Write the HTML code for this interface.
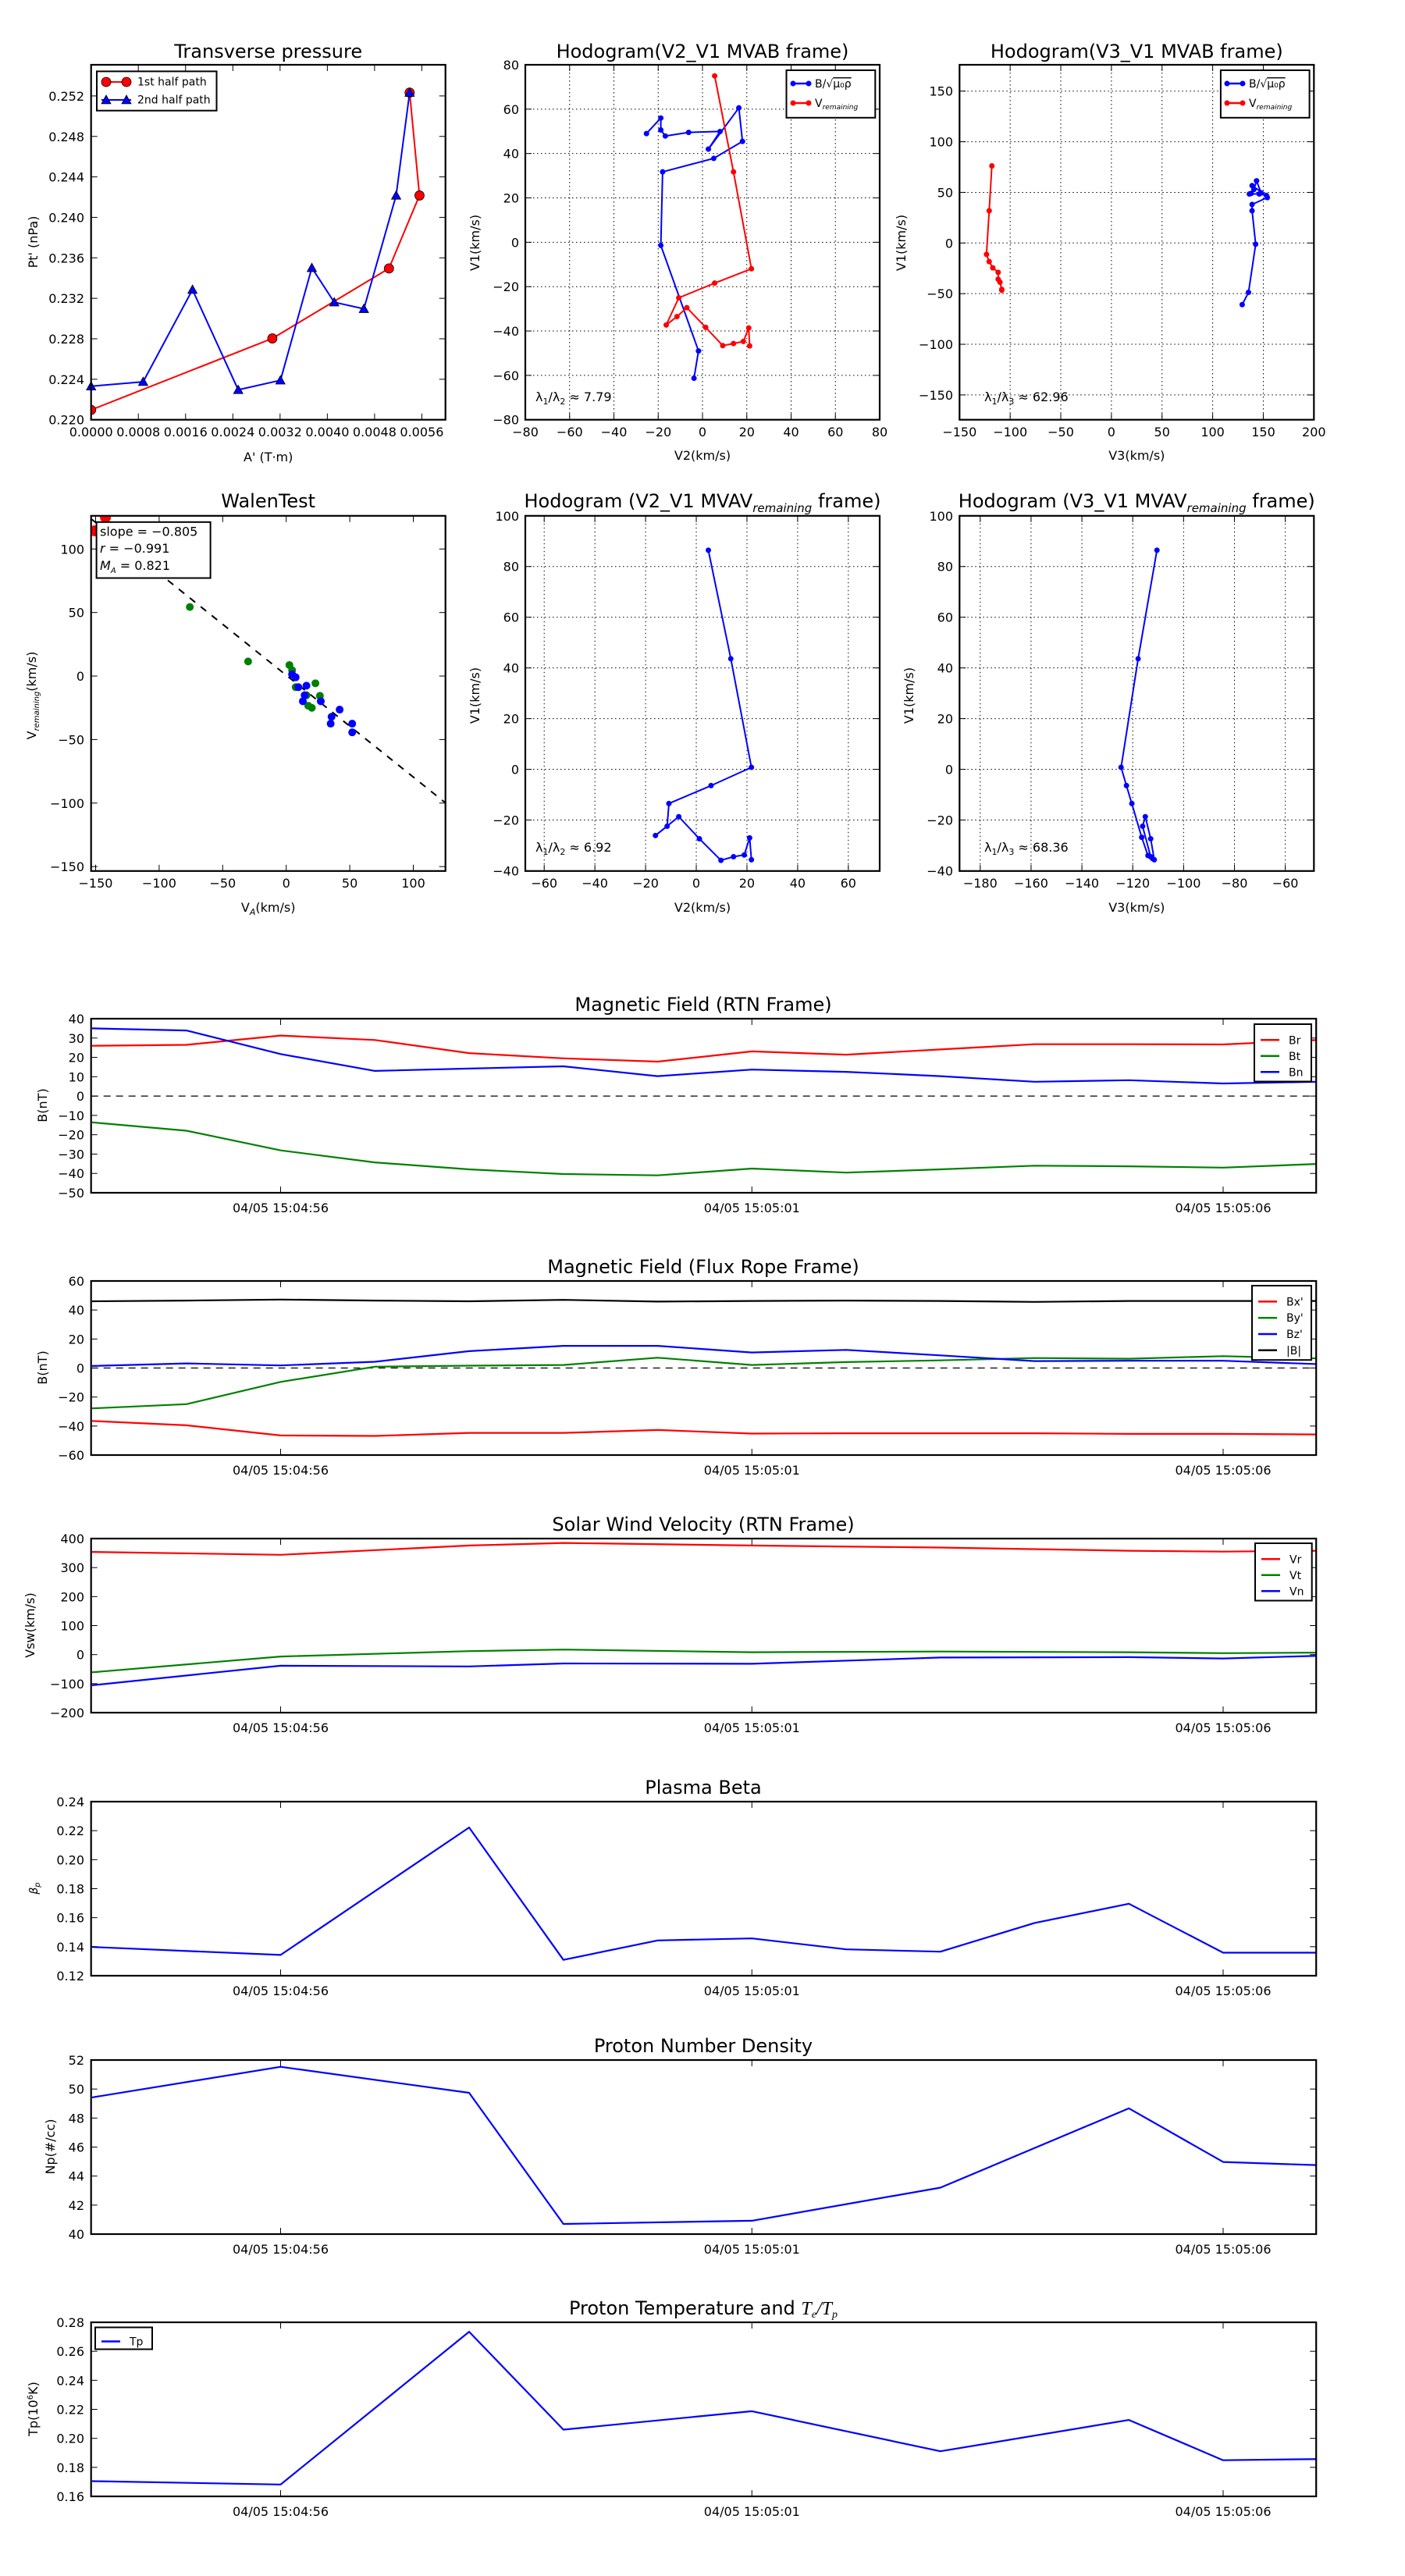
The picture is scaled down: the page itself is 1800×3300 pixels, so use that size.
<!DOCTYPE html>
<html><head><meta charset="utf-8"><style>
html,body{margin:0;padding:0;background:#fff;width:1800px;height:3300px;overflow:hidden}
svg{display:block}
text{font-family:"DejaVu Sans","Liberation Sans",sans-serif;fill:#000}
.t{font-size:24px;text-anchor:middle}
.k{font-size:16px}
.e{text-anchor:end}
.m{text-anchor:middle}
.l{font-size:14px}
</style></head><body>
<svg id="s" width="1800" height="3300" viewBox="0 0 1800 3300" xmlns="http://www.w3.org/2000/svg">
<rect width="1800" height="3300" fill="#fff"/>
<defs>
<clipPath id="c1"><rect x="116.7" y="83" width="454" height="454.7"/></clipPath>
<clipPath id="c2"><rect x="673" y="83" width="454" height="454.7"/></clipPath>
<clipPath id="c3"><rect x="1229.3" y="83" width="454" height="454.7"/></clipPath>
<clipPath id="c4"><rect x="116.7" y="660.8" width="454" height="455"/></clipPath>
<clipPath id="c5"><rect x="673" y="660.8" width="454" height="455"/></clipPath>
<clipPath id="c6"><rect x="1229.3" y="660.8" width="454" height="455"/></clipPath>
<clipPath id="ct"><rect x="116.7" y="0" width="1569.5" height="3300"/></clipPath>
</defs>
<g id="g"></g>

<text class="t" x="343.7" y="74">Transverse pressure</text>
<text class="t" x="900" y="74">Hodogram(V2_V1 MVAB frame)</text>
<text class="t" x="1456.3" y="74">Hodogram(V3_V1 MVAB frame)</text>

<g class="k">
<text class="e" x="108" y="543.7">0.220</text>
<text class="e" x="108" y="491.9">0.224</text>
<text class="e" x="108" y="440">0.228</text>
<text class="e" x="108" y="388.2">0.232</text>
<text class="e" x="108" y="336.3">0.236</text>
<text class="e" x="108" y="284.5">0.240</text>
<text class="e" x="108" y="232.6">0.244</text>
<text class="e" x="108" y="180.8">0.248</text>
<text class="e" x="108" y="128.9">0.252</text>
<text class="m" x="116.7" y="559">0.0000</text>
<text class="m" x="177.2" y="559">0.0008</text>
<text class="m" x="237.8" y="559">0.0016</text>
<text class="m" x="298.3" y="559">0.0024</text>
<text class="m" x="358.8" y="559">0.0032</text>
<text class="m" x="419.4" y="559">0.0040</text>
<text class="m" x="479.9" y="559">0.0048</text>
<text class="m" x="540.4" y="559">0.0056</text>
<text class="m" x="343.7" y="591">A' (T·m)</text>
<text class="m" transform="translate(48,310) rotate(-90)">Pt' (nPa)</text>
</g>

<g class="k">
<text class="e" x="665" y="89">80</text>
<text class="e" x="665" y="145.8">60</text>
<text class="e" x="665" y="202.7">40</text>
<text class="e" x="665" y="259.5">20</text>
<text class="e" x="665" y="316.4">0</text>
<text class="e" x="665" y="373.2">−20</text>
<text class="e" x="665" y="430">−40</text>
<text class="e" x="665" y="486.9">−60</text>
<text class="e" x="665" y="543.7">−80</text>
<text class="m" x="673" y="559">−80</text>
<text class="m" x="729.8" y="559">−60</text>
<text class="m" x="786.5" y="559">−40</text>
<text class="m" x="843.3" y="559">−20</text>
<text class="m" x="900" y="559">0</text>
<text class="m" x="956.8" y="559">20</text>
<text class="m" x="1013.5" y="559">40</text>
<text class="m" x="1070.3" y="559">60</text>
<text class="m" x="1127" y="559">80</text>
<text class="m" x="900" y="589">V2(km/s)</text>
<text class="m" transform="translate(614,311) rotate(-90)">V1(km/s)</text>
<text x="686" y="514">λ<tspan font-size="11" dy="4">1</tspan><tspan dy="-4">/λ</tspan><tspan font-size="11" dy="4">2</tspan><tspan dy="-4"> ≈ 7.79</tspan></text>
</g>

<g class="k">
<text class="e" x="1221" y="122.7">150</text>
<text class="e" x="1221" y="187.6">100</text>
<text class="e" x="1221" y="252.4">50</text>
<text class="e" x="1221" y="317.3">0</text>
<text class="e" x="1221" y="382.2">−50</text>
<text class="e" x="1221" y="447.1">−100</text>
<text class="e" x="1221" y="511.9">−150</text>
<text class="m" x="1229.3" y="559">−150</text>
<text class="m" x="1294.2" y="559">−100</text>
<text class="m" x="1359" y="559">−50</text>
<text class="m" x="1423.9" y="559">0</text>
<text class="m" x="1488.7" y="559">50</text>
<text class="m" x="1553.6" y="559">100</text>
<text class="m" x="1618.5" y="559">150</text>
<text class="m" x="1683.3" y="559">200</text>
<text class="m" x="1456.3" y="589">V3(km/s)</text>
<text class="m" transform="translate(1160,311) rotate(-90)">V1(km/s)</text>
<text x="1261" y="514">λ<tspan font-size="11" dy="4">1</tspan><tspan dy="-4">/λ</tspan><tspan font-size="11" dy="4">3</tspan><tspan dy="-4"> ≈ 62.96</tspan></text>
</g>

<text class="t" x="343.7" y="650">WalenTest</text>
<text class="t" x="900" y="650">Hodogram (V2_V1 MVAV<tspan font-size="15" font-style="italic" dy="6">remaining</tspan><tspan dy="-6"> frame)</tspan></text>
<text class="t" x="1456.3" y="650">Hodogram (V3_V1 MVAV<tspan font-size="15" font-style="italic" dy="6">remaining</tspan><tspan dy="-6"> frame)</tspan></text>

<g class="k">
<text class="e" x="108" y="709.3">100</text>
<text class="e" x="108" y="790.7">50</text>
<text class="e" x="108" y="872">0</text>
<text class="e" x="108" y="953.4">−50</text>
<text class="e" x="108" y="1034.8">−100</text>
<text class="e" x="108" y="1116.2">−150</text>
<text class="m" x="122.5" y="1137">−150</text>
<text class="m" x="203.9" y="1137">−100</text>
<text class="m" x="285.3" y="1137">−50</text>
<text class="m" x="366.7" y="1137">0</text>
<text class="m" x="448.1" y="1137">50</text>
<text class="m" x="529.5" y="1137">100</text>
<text class="m" x="343.7" y="1168">V<tspan font-size="11" font-style="italic" dy="4">A</tspan><tspan dy="-4">(km/s)</tspan></text>
<text class="m" transform="translate(46,891) rotate(-90)">V<tspan font-size="10" font-style="italic" dy="4">remaining</tspan><tspan dy="-4">(km/s)</tspan></text>
<text class="e" x="665" y="666.8">100</text>
<text class="e" x="665" y="731.7">80</text>
<text class="e" x="665" y="796.7">60</text>
<text class="e" x="665" y="861.6">40</text>
<text class="e" x="665" y="926.6">20</text>
<text class="e" x="665" y="991.5">0</text>
<text class="e" x="665" y="1056.5">−20</text>
<text class="e" x="665" y="1121.4">−40</text>
<text class="m" x="697.2" y="1137">−60</text>
<text class="m" x="762.1" y="1137">−40</text>
<text class="m" x="827.1" y="1137">−20</text>
<text class="m" x="892" y="1137">0</text>
<text class="m" x="956.9" y="1137">20</text>
<text class="m" x="1021.9" y="1137">40</text>
<text class="m" x="1086.8" y="1137">60</text>
<text class="m" x="900" y="1168">V2(km/s)</text>
<text class="m" transform="translate(614,891) rotate(-90)">V1(km/s)</text>
<text x="686" y="1091">λ<tspan font-size="11" dy="4">1</tspan><tspan dy="-4">/λ</tspan><tspan font-size="11" dy="4">2</tspan><tspan dy="-4"> ≈ 6.92</tspan></text>
<text class="e" x="1221" y="666.8">100</text>
<text class="e" x="1221" y="731.7">80</text>
<text class="e" x="1221" y="796.7">60</text>
<text class="e" x="1221" y="861.6">40</text>
<text class="e" x="1221" y="926.6">20</text>
<text class="e" x="1221" y="991.5">0</text>
<text class="e" x="1221" y="1056.5">−20</text>
<text class="e" x="1221" y="1121.4">−40</text>
<text class="m" x="1255.8" y="1137">−180</text>
<text class="m" x="1320.9" y="1137">−160</text>
<text class="m" x="1386.1" y="1137">−140</text>
<text class="m" x="1451.2" y="1137">−120</text>
<text class="m" x="1516.4" y="1137">−100</text>
<text class="m" x="1581.5" y="1137">−80</text>
<text class="m" x="1646.6" y="1137">−60</text>
<text class="m" x="1456.3" y="1168">V3(km/s)</text>
<text class="m" transform="translate(1170,891) rotate(-90)">V1(km/s)</text>
<text x="1261" y="1091">λ<tspan font-size="11" dy="4">1</tspan><tspan dy="-4">/λ</tspan><tspan font-size="11" dy="4">3</tspan><tspan dy="-4"> ≈ 68.36</tspan></text>
</g>

<text class="t" x="901" y="1295">Magnetic Field (RTN Frame)</text>
<text class="t" x="901" y="1631">Magnetic Field (Flux Rope Frame)</text>
<text class="t" x="901" y="1961">Solar Wind Velocity (RTN Frame)</text>
<text class="t" x="901" y="2298">Plasma Beta</text>
<text class="t" x="901" y="2629">Proton Number Density</text>
<text class="t" x="901" y="2965">Proton Temperature and <tspan font-family="Liberation Serif" font-style="italic">T<tspan font-size="14" dy="4">e</tspan><tspan dy="-4">/T</tspan><tspan font-size="14" dy="4">p</tspan></tspan></text>

<g class="k">
<text class="e" x="108" y="1311">40</text><text class="e" x="108" y="1335.8">30</text><text class="e" x="108" y="1360.6">20</text><text class="e" x="108" y="1385.3">10</text><text class="e" x="108" y="1410.1">0</text><text class="e" x="108" y="1434.9">−10</text><text class="e" x="108" y="1459.7">−20</text><text class="e" x="108" y="1484.5">−30</text><text class="e" x="108" y="1509.2">−40</text><text class="e" x="108" y="1534">−50</text>
<text class="m" x="359.5" y="1553">04/05 15:04:56</text><text class="m" x="963.3" y="1553">04/05 15:05:01</text><text class="m" x="1567" y="1553">04/05 15:05:06</text>
<text class="m" transform="translate(60,1416) rotate(-90)">B(nT)</text>
<text class="e" x="108" y="1647">60</text><text class="e" x="108" y="1684.2">40</text><text class="e" x="108" y="1721.3">20</text><text class="e" x="108" y="1758.5">0</text><text class="e" x="108" y="1795.7">−20</text><text class="e" x="108" y="1832.8">−40</text><text class="e" x="108" y="1870">−60</text>
<text class="m" x="359.5" y="1889">04/05 15:04:56</text><text class="m" x="963.3" y="1889">04/05 15:05:01</text><text class="m" x="1567" y="1889">04/05 15:05:06</text>
<text class="m" transform="translate(60,1752) rotate(-90)">B(nT)</text>
<text class="e" x="108" y="1977">400</text><text class="e" x="108" y="2014.2">300</text><text class="e" x="108" y="2051.3">200</text><text class="e" x="108" y="2088.5">100</text><text class="e" x="108" y="2125.7">0</text><text class="e" x="108" y="2162.8">−100</text><text class="e" x="108" y="2200">−200</text>
<text class="m" x="359.5" y="2219">04/05 15:04:56</text><text class="m" x="963.3" y="2219">04/05 15:05:01</text><text class="m" x="1567" y="2219">04/05 15:05:06</text>
<text class="m" transform="translate(44,2082) rotate(-90)">Vsw(km/s)</text>
<text class="e" x="108" y="2314">0.24</text><text class="e" x="108" y="2351.2">0.22</text><text class="e" x="108" y="2388.3">0.20</text><text class="e" x="108" y="2425.5">0.18</text><text class="e" x="108" y="2462.7">0.16</text><text class="e" x="108" y="2499.8">0.14</text><text class="e" x="108" y="2537">0.12</text>
<text class="m" x="359.5" y="2556">04/05 15:04:56</text><text class="m" x="963.3" y="2556">04/05 15:05:01</text><text class="m" x="1567" y="2556">04/05 15:05:06</text>
<text class="m" transform="translate(48,2419) rotate(-90)" font-style="italic" font-size="14">β<tspan font-size="10" dy="3">p</tspan></text>
<text class="e" x="108" y="2645">52</text><text class="e" x="108" y="2682.2">50</text><text class="e" x="108" y="2719.3">48</text><text class="e" x="108" y="2756.5">46</text><text class="e" x="108" y="2793.7">44</text><text class="e" x="108" y="2830.8">42</text><text class="e" x="108" y="2868">40</text>
<text class="m" x="359.5" y="2887">04/05 15:04:56</text><text class="m" x="963.3" y="2887">04/05 15:05:01</text><text class="m" x="1567" y="2887">04/05 15:05:06</text>
<text class="m" transform="translate(70,2750) rotate(-90)">Np(#/cc)</text>
<text class="e" x="108" y="2981">0.28</text><text class="e" x="108" y="3018.2">0.26</text><text class="e" x="108" y="3055.3">0.24</text><text class="e" x="108" y="3092.5">0.22</text><text class="e" x="108" y="3129.7">0.20</text><text class="e" x="108" y="3166.8">0.18</text><text class="e" x="108" y="3204">0.16</text>
<text class="m" x="359.5" y="3223">04/05 15:04:56</text><text class="m" x="963.3" y="3223">04/05 15:05:01</text><text class="m" x="1567" y="3223">04/05 15:05:06</text>
<text class="m" transform="translate(48,3086) rotate(-90)">Tp(10<tspan font-size="10" dy="-6">6</tspan><tspan dy="6">K)</tspan></text>
</g>
<g id="top"></g>
<g id="leg">
<rect x="124" y="91.4" width="153.5" height="50.3" fill="#fff" stroke="#000" stroke-width="2"/>
<text class="l" x="176" y="109.5">1st half path</text>
<text class="l" x="176" y="132.7">2nd half path</text>
<rect x="1007.5" y="90" width="113.8" height="60.8" fill="#fff" stroke="#000" stroke-width="2"/>
<text class="l" x="1044" y="112">B/√<tspan text-decoration="overline">μ₀ρ</tspan></text>
<text class="l" x="1044" y="137">V<tspan font-size="9" font-style="italic" dy="3">remaining</tspan></text>
<rect x="1563.9" y="90" width="113.7" height="60.8" fill="#fff" stroke="#000" stroke-width="2"/>
<text class="l" x="1600" y="112">B/√<tspan text-decoration="overline">μ₀ρ</tspan></text>
<text class="l" x="1600" y="137">V<tspan font-size="9" font-style="italic" dy="3">remaining</tspan></text>
</g>
</svg>
<script>
var NS='http://www.w3.org/2000/svg',G=document.getElementById('g'),TOP=document.getElementById('top'),LEG=document.getElementById('leg');
function el(tag,a,par){var e=document.createElementNS(NS,tag);for(var k in a)e.setAttribute(k,a[k]);(par||G).appendChild(e);return e;}
function poly(pts,c,w,clip,dash){var a={points:pts.map(function(p){return p[0].toFixed(1)+','+p[1].toFixed(1)}).join(' '),fill:'none',stroke:c,'stroke-width':w||2,'stroke-linejoin':'round'};if(clip)a['clip-path']='url(#'+clip+')';if(dash)a['stroke-dasharray']=dash;el('polyline',a);}
function line(x1,y1,x2,y2,c,w,dash,par){var a={x1:x1,y1:y1,x2:x2,y2:y2,stroke:c||'#000','stroke-width':w||1};if(dash)a['stroke-dasharray']=dash;el('line',a,par);}
function frame(x,y,w,h,xt,yt,grid){
  if(grid){xt.forEach(function(t){line(t,y,t,y+h,'#000',1,'1.5,3.5');});yt.forEach(function(t){line(x,t,x+w,t,'#000',1,'1.5,3.5');});}
  xt.forEach(function(t){line(t,y+h,t,y+h-8,'#000',1,null,TOP);line(t,y,t,y+8,'#000',1,null,TOP);});
  yt.forEach(function(t){line(x,t,x+8,t,'#000',1,null,TOP);line(x+w,t,x+w-8,t,'#000',1,null,TOP);});
  el('rect',{x:x,y:y,width:w,height:h,fill:'none',stroke:'#000','stroke-width':2.2},TOP);
}
function rng(a,s,n){var r=[];for(var i=0;i<n;i++)r.push(a+s*i);return r;}
function z1(p){return [1.1494*p[0]-0.5,0.3831*p[1]-0.5];}
function z2(p){return [1.1494*p[0]-0.5,600+0.3831*p[1]-0.5];}
function circ(p,r,c,clip,stroke,par){var a={cx:p[0],cy:p[1],r:r,fill:c};if(stroke){a.stroke='#000';a['stroke-width']=0.8;}if(clip)a['clip-path']='url(#'+clip+')';el('circle',a,par);}
function tri(p,s,c,par){el('polygon',{points:[[p[0],p[1]-s],[p[0]-s,p[1]+s*0.8],[p[0]+s,p[1]+s*0.8]].map(function(q){return q.join(',')}).join(' '),fill:c,stroke:'#000','stroke-width':0.8},par);}

var red=[[102,1372],[304,1133],[434,899],[468,655],[457,311]].map(z1);
var blu=[[102,1293],[160,1278],[215,970],[266,1305],[313,1273],[348,897],[373,1012],[406,1034],[442,655],[457,311]].map(z1);
poly(red,'#f00',2,'c1');poly(blu,'#00f',2,'c1');
red.forEach(function(p){circ(p,6,'#f00','c1',1);});
blu.forEach(function(p){tri(p,6,'#00f');});
frame(116.7,83,454,454.7,rng(116.7,60.53,8),rng(537.7,-51.85,9),false);
line(130,105,168,105,'#f00',2,null,LEG);circ([136,105],6,'#f00',null,1,LEG);circ([162,105],6,'#f00',null,1,LEG);
line(130,128,168,128,'#00f',2,null,LEG);tri([136,128],6,'#00f',LEG);tri([162,128],6,'#00f',LEG);

frame(673,83,454,454.7,rng(673,56.75,9),rng(83,56.84,9),true);
var b2=[[721,448],[737,396],[737,436],[742,456],[768,444],[803,441],[790,500],[824,362],[828,474],[796,531],[739,576],[737,822],[779,1175],[774,1266]].map(z1);
var r2=[[797,255],[818,576],[838,900],[797,948],[757,997],[743,1088],[755,1060],[766,1030],[787,1096],[806,1157],[818,1150],[829,1143],[835,1098],[836,1158]].map(z1);
poly(b2,'#00f',2,'c2');poly(r2,'#f00',2,'c2');
b2.forEach(function(p){circ(p,3.5,'#00f');});r2.forEach(function(p){circ(p,3.5,'#f00');});
line(1014,107,1038,107,'#00f',2.5,null,LEG);circ([1016,107],3.5,'#00f',null,0,LEG);circ([1036,107],3.5,'#00f',null,0,LEG);
line(1014,132,1038,132,'#f00',2.5,null,LEG);circ([1016,132],3.5,'#f00',null,0,LEG);circ([1036,132],3.5,'#f00',null,0,LEG);

frame(1229.3,83,454,454.7,rng(1229.3,64.86,8),rng(116.7,64.87,7),true);
var b3=[[1385,1020],[1392,979],[1400,818],[1396,706],[1396,685],[1413,662],[1406,646],[1401,606],[1398,635],[1395,648],[1393,650],[1404,650],[1412,655],[1396,622]].map(z1);
var r3=[[1106,556],[1103,706],[1100,852],[1103,876],[1107,897],[1113,912],[1113,935],[1115,945],[1117,969],[1117,972]].map(z1);
poly(b3,'#00f',2,'c3');poly(r3,'#f00',2,'c3');
b3.forEach(function(p){circ(p,3.5,'#00f');});r3.forEach(function(p){circ(p,3.5,'#f00');});
line(1570,107,1594,107,'#00f',2.5,null,LEG);circ([1572,107],3.5,'#00f',null,0,LEG);circ([1592,107],3.5,'#00f',null,0,LEG);
line(1570,132,1594,132,'#f00',2.5,null,LEG);circ([1572,132],3.5,'#f00',null,0,LEG);circ([1592,132],3.5,'#f00',null,0,LEG);

poly([[102,170],[497,1120]].map(z2),'#000',2,'c4','9,9');
circ(z2([106,210]),7,'#f00','c4');circ(z2([118,165]),7,'#f00','c4');
[[212,465],[277,647],[323,659],[326,676],[330,733],[352,720],[357,762],[344,795],[348,802],[342,760]].map(z2).forEach(function(p){circ(p,5,'#008000');});
[[326,690],[330,700],[333,733],[342,728],[340,760],[338,780],[358,780],[379,808],[370,832],[369,855],[393,855],[393,884]].map(z2).forEach(function(p){circ(p,5,'#00f');});
frame(116.7,660.8,454,455,rng(122.5,81.4,6),rng(703.3,81.37,6),false);
el('rect',{x:123.6,y:668.8,width:146,height:71.7,fill:'#fff',stroke:'#000','stroke-width':2},TOP);
var lg=[['slope = −0.805',686.5],['r = −0.991',708],['M_A = 0.821',730]];
lg.forEach(function(a){var t=el('text',{x:128,y:a[1],'font-size':16},TOP);
 if(a[0].indexOf('M_A')==0){t.innerHTML='<tspan font-style="italic">M</tspan><tspan font-size="10" font-style="italic" dy="4">A</tspan><tspan dy="-4"> = 0.821</tspan>';}
 else if(a[0].indexOf('r =')==0){t.innerHTML='<tspan font-style="italic">r</tspan> = −0.991';}
 else t.textContent=a[0];});

frame(673,660.8,454,455,rng(697.2,64.94,7),rng(660.8,64.95,8),true);
var b5=[[790,275],[815,638],[838,1001],[793,1062],[746,1122],[744,1198],[731,1229],[757,1166],[780,1240],[804,1312],[818,1300],[830,1294],[836,1237],[838,1310]].map(z2);
poly(b5,'#00f',2,'c5');b5.forEach(function(p){circ(p,3.5,'#00f');});
frame(1229.3,660.8,454,455,rng(1255.8,65.14,7),rng(660.8,64.95,8),true);
var b6=[[1290,275],[1269,638],[1250,1001],[1256,1062],[1262,1122],[1273,1235],[1280,1296],[1287,1310],[1283,1240],[1277,1166],[1274,1198],[1283,1300],[1285,1306]].map(z2);
poly(b6,'#00f',2,'c6');b6.forEach(function(p){circ(p,3.5,'#00f');});

var X0=116.7,W=1569.5,H=223;
function tx(t){return 359.5+120.75*t;}
var dates=[tx(0),tx(5),tx(10)];
function ts(top,ymax,ymin,nt,series,zero){
  var fy=function(v){return top+(ymax-v)/(ymax-ymin)*H;};
  if(zero)line(X0,fy(0),X0+W,fy(0),'#000',1.3,'9,7');
  series.forEach(function(s){poly(s.t.map(function(t,i){return [tx(t),fy(s.v[i])];}),s.c,2.2,'ct');});
  frame(X0,top,W,H,dates,rng(top,H/(nt-1),nt),false);
}
var T14=rng(-2,1,14);
ts(1305,40,-50,10,[
 {t:T14,c:'#f00',v:[26,26.5,31.3,29,22.2,19.5,17.8,23.1,21.4,24.1,26.8,26.8,26.7,29]},
 {t:T14,c:'#008000',v:[-13.6,-17.9,-28.1,-34.3,-37.9,-40.3,-41,-37.5,-39.6,-37.9,-36,-36.3,-37,-35.1]},
 {t:T14,c:'#00f',v:[35,33.9,21.7,13,14.2,15.4,10.3,13.7,12.5,10.3,7.4,8.2,6.5,7.4]}],true);
ts(1641,60,-60,7,[
 {t:T14,c:'#000',v:[46,46.5,47.2,46.5,46,47,45.8,46.2,46.5,46.2,45.6,46.2,46.2,46.2]},
 {t:T14,c:'#f00',v:[-36.5,-39.5,-46.5,-46.8,-44.7,-44.7,-42.7,-45.2,-45,-45,-45,-45.4,-45.4,-45.8]},
 {t:T14,c:'#008000',v:[-27.8,-24.9,-9.6,0.9,1.6,2.1,7.1,2.1,4.1,5.3,6.9,6.4,8.2,6.6]},
 {t:T14,c:'#00f',v:[1.4,3.2,1.8,4.3,11.6,15.3,15.3,10.7,12.5,8.7,4.8,5,5,2.7]}],true);
var T9=[-2,0,2,3,5,7,9,10,11];
ts(1971,400,-200,7,[
 {t:T9,c:'#f00',v:[354,344,376,385,376,369,358,355,358]},
 {t:T9,c:'#008000',v:[-61,-6.5,12,17.4,8.3,10.6,8.3,5,7]},
 {t:T9,c:'#00f',v:[-105.5,-38.4,-40.6,-30.4,-31.5,-10,-8.8,-13.3,-4.2]}],false);
ts(2308,0.24,0.12,7,[{t:[-2,0,2,3,4,5,6,7,8,9,10,11],c:'#00f',v:[0.1398,0.1343,0.2222,0.1309,0.1443,0.1457,0.1382,0.1366,0.1564,0.1696,0.1359,0.1359]}],false);
ts(2639,52,40,7,[{t:T9,c:'#00f',v:[49.42,51.53,49.74,40.70,40.92,43.2,48.67,44.97,44.75]}],false);
ts(2975,0.28,0.16,7,[{t:T9,c:'#00f',v:[0.1705,0.1682,0.2735,0.206,0.2187,0.1911,0.2127,0.1849,0.1857]}],false);

function legend(x,y,w,items,dy){el('rect',{x:x,y:y,width:w,height:items.length*dy+12,fill:'#fff',stroke:'#000','stroke-width':2},TOP);
 items.forEach(function(it,i){var yy=y+10+dy*(i+0.5);line(x+8,yy,x+32,yy,it[1],2.5,null,TOP);var t=el('text',{x:x+44,y:yy+5,'font-size':14},TOP);t.textContent=it[0];});}
legend(1607,1312,73,[['Br','#f00'],['Bt','#008000'],['Bn','#00f']],20.5);
legend(1604,1647,76,[['Bx\'','#f00'],['By\'','#008000'],['Bz\'','#00f'],['|B|','#000']],20.8);
legend(1608,1977,72.7,[['Vr','#f00'],['Vt','#008000'],['Vn','#00f']],20.5);
legend(122,2981.5,73,[['Tp','#00f']],16);
</script>
</body></html>
